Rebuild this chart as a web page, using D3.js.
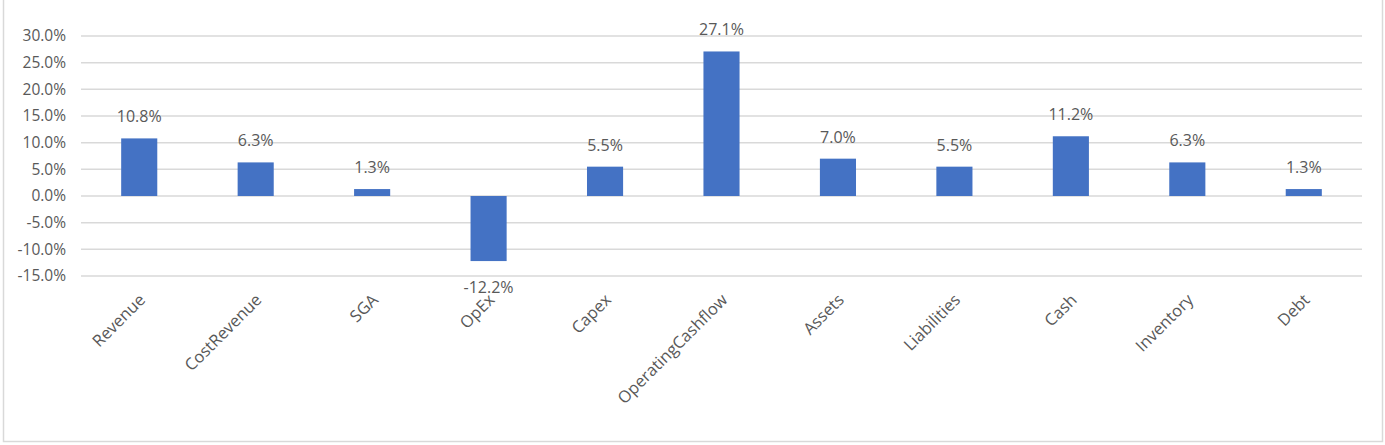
<!DOCTYPE html>
<html><head><meta charset="utf-8">
<script src="https://cdn.jsdelivr.net/npm/d3@7"></script>
<style>body{margin:0;background:#fff}</style>
</head><body>
<svg id="chart" width="1385" height="445"></svg>
<script>
const categories = ["Revenue","CostRevenue","SGA","OpEx","Capex","OperatingCashflow","Assets","Liabilities","Cash","Inventory","Debt"];
const values = [10.8, 6.3, 1.3, -12.2, 5.5, 27.1, 7.0, 5.5, 11.2, 6.3, 1.3];
const yTicks = [30, 25, 20, 15, 10, 5, 0, -5, -10, -15];

const svg = d3.select("#chart");
const font = "'Open Sans', sans-serif";
const textColor = "#595959";

svg.append("rect").attr("x", 3.5).attr("y", -2).attr("width", 1379).attr("height", 443.5)
  .attr("fill", "#fff").attr("stroke", "#d9d9d9").attr("stroke-width", 1.5);

const x = d3.scaleBand().domain(categories).range([81, 1362]).paddingInner(0.69).paddingOuter(0.345);
const y = d3.scaleLinear().domain([-15, 30]).range([276, 36]);

// gridlines
svg.append("g").selectAll("line").data(yTicks).join("line")
  .attr("x1", 81).attr("x2", 1362)
  .attr("y1", d => y(d)).attr("y2", d => y(d))
  .attr("stroke", "#d9d9d9").attr("stroke-width", 1.5);

// y axis labels
const yAxis = svg.append("g").attr("transform", "translate(66,0)")
  .call(d3.axisLeft(y).tickValues(yTicks).tickSize(0).tickPadding(0).tickFormat(d => d.toFixed(1) + "%"));
yAxis.select(".domain").remove();
yAxis.selectAll("text").attr("font-family", font).attr("font-size", 15.5).attr("fill", textColor);

// bars
svg.append("g").selectAll("rect").data(values).join("rect")
  .attr("x", (d, i) => x(categories[i]))
  .attr("width", x.bandwidth())
  .attr("y", d => y(Math.max(0, d)))
  .attr("height", d => Math.abs(y(d) - y(0)))
  .attr("fill", "#4472c4");

// data labels
svg.append("g").selectAll("text").data(values).join("text")
  .attr("x", (d, i) => x(categories[i]) + x.bandwidth() / 2)
  .attr("y", d => d >= 0 ? y(d) - 16 : y(d) + 32)
  .attr("text-anchor", "middle")
  .attr("font-family", font).attr("font-size", 16).attr("fill", textColor)
  .text(d => d.toFixed(1) + "%");

// x axis category labels
const xAxis = svg.append("g").attr("transform", "translate(0,276)")
  .call(d3.axisBottom(x).tickSize(0).tickPadding(0));
xAxis.select(".domain").remove();
xAxis.selectAll("text")
  .attr("font-family", font).attr("font-size", 16.5).attr("fill", textColor)
  .attr("text-anchor", "end")
  .attr("dy", 0)
  .attr("transform", "translate(7,25) rotate(-45)");
</script>
</body></html>
